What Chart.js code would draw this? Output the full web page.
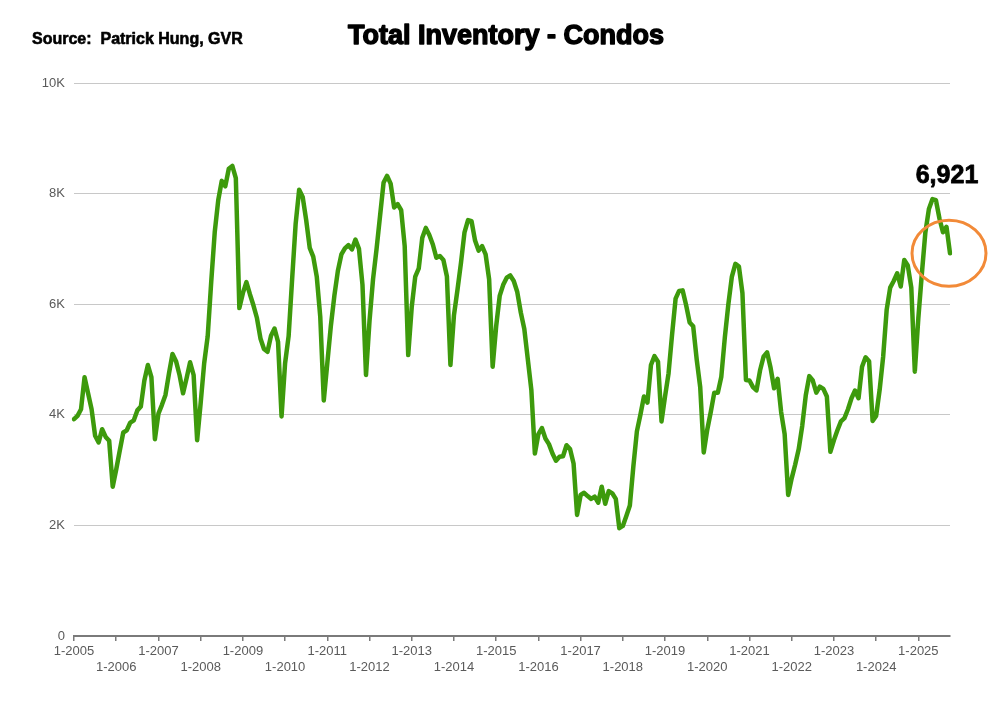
<!DOCTYPE html>
<html>
<head>
<meta charset="utf-8">
<script src="https://cdn.jsdelivr.net/npm/chart.js"></script>
<style>
  body { margin: 0; background: #fff; }
  #wrap { width: 1004px; height: 720px; position: relative; }
</style>
</head>
<body>
<div id="wrap"><canvas id="invChart"></canvas></div>
<script>
// monthly total condo inventory, Jan 2005 .. Oct 2025
var startYear = 2005;
var inv2005 = [3920, 3980, 4100, 4680, 4390, 4100, 3620, 3500, 3740, 3600, 3530, 2700];
var inv2006 = [3010, 3350, 3680, 3720, 3860, 3900, 4080, 4150, 4620, 4900, 4680, 3560];
var inv2007 = [4020, 4180, 4360, 4750, 5100, 4970, 4720, 4390, 4660, 4950, 4720, 3540];
var inv2008 = [4210, 4930, 5420, 6400, 7300, 7880, 8230, 8130, 8450, 8500, 8280, 5930];
var inv2009 = [6200, 6400, 6180, 5980, 5750, 5380, 5190, 5140, 5430, 5560, 5320, 3970];
var inv2010 = [4930, 5420, 6450, 7450, 8070, 7940, 7520, 7020, 6860, 6500, 5770, 4260];
var inv2011 = [4930, 5600, 6150, 6600, 6900, 7010, 7070, 6990, 7170, 7000, 6350, 4720];
var inv2012 = [5700, 6450, 7000, 7600, 8200, 8320, 8180, 7750, 7810, 7700, 7050, 5080];
var inv2013 = [5950, 6500, 6650, 7200, 7380, 7250, 7080, 6840, 6870, 6800, 6500, 4900];
var inv2014 = [5800, 6260, 6750, 7300, 7520, 7500, 7150, 6970, 7050, 6900, 6450, 4870];
var inv2015 = [5600, 6150, 6350, 6480, 6520, 6420, 6220, 5850, 5550, 5000, 4450, 3300];
var inv2016 = [3650, 3760, 3570, 3470, 3300, 3170, 3240, 3250, 3450, 3380, 3120, 2190];
var inv2017 = [2550, 2590, 2530, 2480, 2520, 2410, 2700, 2390, 2620, 2580, 2480, 1950];
var inv2018 = [1990, 2170, 2360, 3070, 3700, 4000, 4330, 4220, 4900, 5060, 4960, 3880];
var inv2019 = [4330, 4750, 5450, 6100, 6240, 6250, 5980, 5670, 5600, 5000, 4500, 3320];
var inv2020 = [3730, 4050, 4400, 4400, 4690, 5400, 6000, 6500, 6730, 6680, 6200, 4630];
var inv2021 = [4620, 4500, 4440, 4800, 5050, 5130, 4850, 4480, 4650, 4050, 3650, 2550];
var inv2022 = [2850, 3100, 3380, 3800, 4350, 4700, 4620, 4400, 4510, 4470, 4330, 3330];
var inv2023 = [3540, 3720, 3880, 3940, 4100, 4300, 4440, 4300, 4870, 5040, 4970, 3890];
var inv2024 = [3980, 4450, 5050, 5900, 6300, 6420, 6560, 6320, 6800, 6700, 6300, 4780];
var inv2025 = [5750, 6550, 7300, 7720, 7900, 7880, 7550, 7300, 7400, 6921];

var yTicks = [0, 2000, 4000, 6000, 8000, 10000];
var yTickLabels = ['0', '2K', '4K', '6K', '8K', '10K'];

var inventory = [].concat(inv2005, inv2006, inv2007, inv2008, inv2009, inv2010, inv2011,
  inv2012, inv2013, inv2014, inv2015, inv2016, inv2017, inv2018, inv2019, inv2020,
  inv2021, inv2022, inv2023, inv2024, inv2025);

var months = [];
for (var i = 0; i < inventory.length; i++) {
  months.push((i % 12 + 1) + '-' + (startYear + Math.floor(i / 12)));
}

var lastLabel = inventory[inventory.length - 1].toLocaleString('en-US');

// heavy text: fill plus a thin stroke of the same colour
function heavyText(ctx, txt, x, y, w) {
  ctx.lineWidth = w;
  ctx.lineJoin = 'round';
  ctx.strokeText(txt, x, y);
  ctx.fillText(txt, x, y);
}

// title, source and the circled last value
var overlay = {
  id: 'overlay',
  afterDatasetsDraw: function(chart) {
    var ctx = chart.ctx;
    var pts = chart.getDatasetMeta(0).data;
    var last = pts[pts.length - 1];
    ctx.save();
    ctx.strokeStyle = '#f28a38';
    ctx.lineWidth = 3;
    ctx.beginPath();
    ctx.ellipse(last.x - 1, last.y, 37, 33, 0, 0, Math.PI * 2);
    ctx.stroke();

    ctx.fillStyle = '#000';
    ctx.strokeStyle = '#000';
    ctx.textBaseline = 'middle';
    ctx.textAlign = 'center';
    ctx.font = 'bold 25px "Liberation Sans", Arial, sans-serif';
    heavyText(ctx, lastLabel, last.x - 3, last.y - 77, 0.8);

    ctx.font = 'bold 27px "Liberation Sans", Arial, sans-serif';
    heavyText(ctx, 'Total Inventory - Condos', 506, 37, 1.4);

    ctx.textAlign = 'left';
    ctx.font = 'bold 16px "Liberation Sans", Arial, sans-serif';
    heavyText(ctx, 'Source:  Patrick Hung, GVR', 32, 40, 0.6);
    ctx.restore();
  }
};

var ctx = document.getElementById('invChart').getContext('2d');
var chart = new Chart(ctx, {
  type: 'line',
  data: {
    labels: months,
    datasets: [{
      label: 'Total Inventory',
      data: inventory,
      borderColor: '#3d9a0c',
      borderWidth: 4.5,
      borderJoinStyle: 'round',
      borderCapStyle: 'round',
      pointRadius: 0,
      tension: 0,
      fill: false
    }]
  },
  options: {
    responsive: true,
    maintainAspectRatio: false,
    animation: false,
    layout: {
      padding: { top: 83, right: 54, bottom: 0, left: 0 }
    },
    plugins: {
      legend: { display: false },
      tooltip: { enabled: false }
    },
    scales: {
      x: {
        offset: false,
        afterFit: function(scale) { scale.height = 84; },
        grid: {
          display: true,
          drawOnChartArea: false,
          drawTicks: true,
          tickLength: 5,
          color: '#7a7a7a',
          lineWidth: 1.5
        },
        border: { display: true, color: '#7a7a7a', width: 2 },
        ticks: {
          autoSkip: false,
          maxRotation: 0,
          minRotation: 0,
          padding: 3,
          color: '#5a5a5a',
          font: { family: '"Liberation Sans", Arial, sans-serif', size: 13 },
          callback: function(val, idx) {
            if (idx % 12 !== 0) return null;
            var yr = idx / 12;
            return yr % 2 === 0 ? [months[idx], ''] : ['', months[idx]];
          }
        }
      },
      y: {
        min: 0,
        max: 10000,
        afterFit: function(scale) { scale.width = 74; },
        afterBuildTicks: function(scale) {
          scale.ticks = yTicks.map(function(v) { return { value: v }; });
        },
        grid: { color: '#c8c8c8', lineWidth: 1, drawTicks: false },
        border: { display: false },
        ticks: {
          padding: 9,
          color: '#5a5a5a',
          font: { family: '"Liberation Sans", Arial, sans-serif', size: 13 },
          callback: function(val) {
            var k = yTicks.indexOf(val);
            return k >= 0 ? yTickLabels[k] : '';
          }
        }
      }
    }
  },
  plugins: [overlay]
});
</script>
</body>
</html>
